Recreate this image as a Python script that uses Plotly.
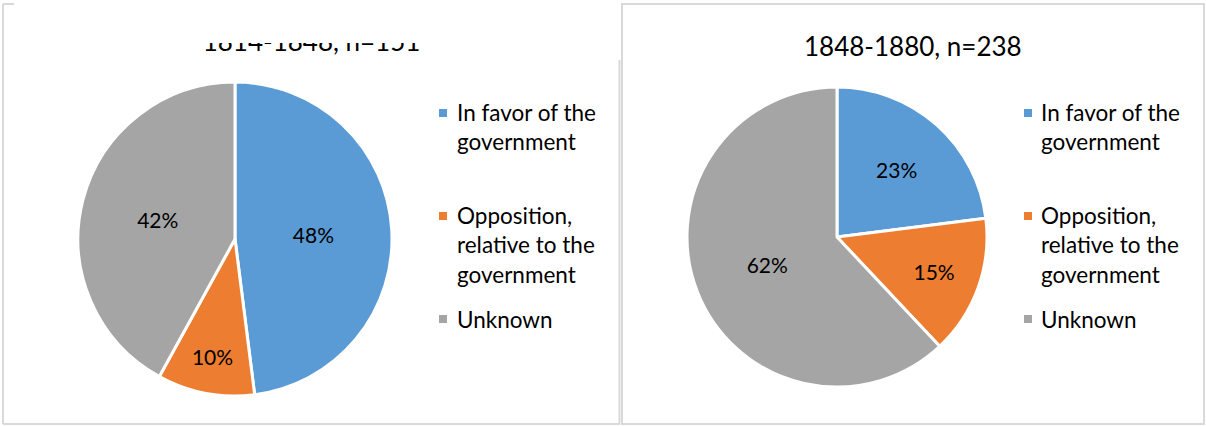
import plotly.graph_objects as go

# ---- data ----
categories = ["In favor of the government", "Opposition, relative to the government", "Unknown"]
legend_text = ["In favor of the<br>government", "Opposition,<br>relative to the<br>government", "Unknown"]
left_title = "1814-1848, n=151"
right_title = "1848-1880, n=238"
left_values = [48, 10, 42]     # percent, 1814-1848
right_values = [23, 15, 62]    # percent, 1848-1880
colors = ["#5B9BD5", "#ED7D31", "#A5A5A5"]

W, H = 1206, 426
FONT = "Lato"


def px(x):
    return x / W


def py(y):
    return 1 - y / H


fig = go.Figure()

pie_common = dict(
    labels=categories,
    marker=dict(colors=colors, line=dict(color="white", width=3)),
    sort=False,
    direction="clockwise",
    rotation=0,
    texttemplate="%{percent:.0%}",
    textposition="inside",
    insidetextorientation="horizontal",
    insidetextfont=dict(color="black", size=21, family=FONT),
    showlegend=False,
    hoverinfo="label+percent",
)

fig.add_trace(go.Pie(values=left_values,
                     domain=dict(x=[px(78), px(392)], y=[py(396), py(82)]),
                     name="1814-1848", **pie_common))
fig.add_trace(go.Pie(values=right_values,
                     domain=dict(x=[px(687), px(987)], y=[py(387), py(87)]),
                     name="1848-1880", **pie_common))

# left title is clipped at its top in the reference: draw it as clipped text
clip_top, clip_bottom = 43, 80
title_center_px = 44
fig.add_trace(go.Scatter(
    x=[0.5], y=[(clip_bottom - title_center_px) / (clip_bottom - clip_top)],
    mode="text", text=[left_title], textposition="middle center",
    textfont=dict(size=26, family=FONT, color="black"),
    cliponaxis=True, hoverinfo="skip", showlegend=False,
))

fig.update_layout(
    width=W, height=H,
    margin=dict(l=0, r=0, t=0, b=0),
    paper_bgcolor="white", plot_bgcolor="rgba(0,0,0,0)",
    font=dict(family=FONT, color="black"),
    xaxis=dict(domain=[px(3), px(620)], range=[0, 1], visible=False, fixedrange=True),
    yaxis=dict(domain=[py(clip_bottom), py(clip_top)], range=[0, 1], visible=False, fixedrange=True),
    showlegend=False,
)

shapes = []
border = dict(color="#D9D9D9", width=2)
# left panel frame
shapes.append(dict(type="line", xref="paper", yref="paper", x0=px(3), x1=px(3), y0=py(424), y1=py(4), line=border))
shapes.append(dict(type="line", xref="paper", yref="paper", x0=px(3), x1=px(14), y0=py(4), y1=py(4), line=border))
shapes.append(dict(type="line", xref="paper", yref="paper", x0=px(3), x1=px(620), y0=py(424), y1=py(424), line=border))
shapes.append(dict(type="line", xref="paper", yref="paper", x0=px(619.5), x1=px(619.5), y0=py(424), y1=py(60), line=border))
# right panel frame
shapes.append(dict(type="rect", xref="paper", yref="paper", x0=px(622), x1=px(1204), y0=py(424), y1=py(4), line=border))

annotations = []
annotations.append(dict(text=right_title, xref="paper", yref="paper", x=px(913), y=py(46),
                        xanchor="center", yanchor="middle", showarrow=False,
                        font=dict(size=26, family=FONT, color="black")))

# legends
item_centers = [127, 245, 319]
square_centers = [113, 216, 319]
for sq_x, tx_x in [(443, 456), (1028, 1040)]:
    for i, cat in enumerate(categories):
        sc = square_centers[i]
        shapes.append(dict(type="rect", xref="paper", yref="paper",
                           x0=px(sq_x - 4), x1=px(sq_x + 4), y0=py(sc + 4), y1=py(sc - 4),
                           fillcolor=colors[i], line=dict(width=0)))
        annotations.append(dict(text=legend_text[i], xref="paper", yref="paper",
                                x=px(tx_x), y=py(item_centers[i]), xanchor="left", yanchor="middle",
                                align="left", showarrow=False, borderpad=0,
                                font=dict(size=22.5, family=FONT, color="black")))

fig.update_layout(shapes=shapes, annotations=annotations)
fig.write_html("out.html",
               config={"displayModeBar": False},
               post_script="document.body.style.margin='0';document.body.style.overflow='hidden';")
